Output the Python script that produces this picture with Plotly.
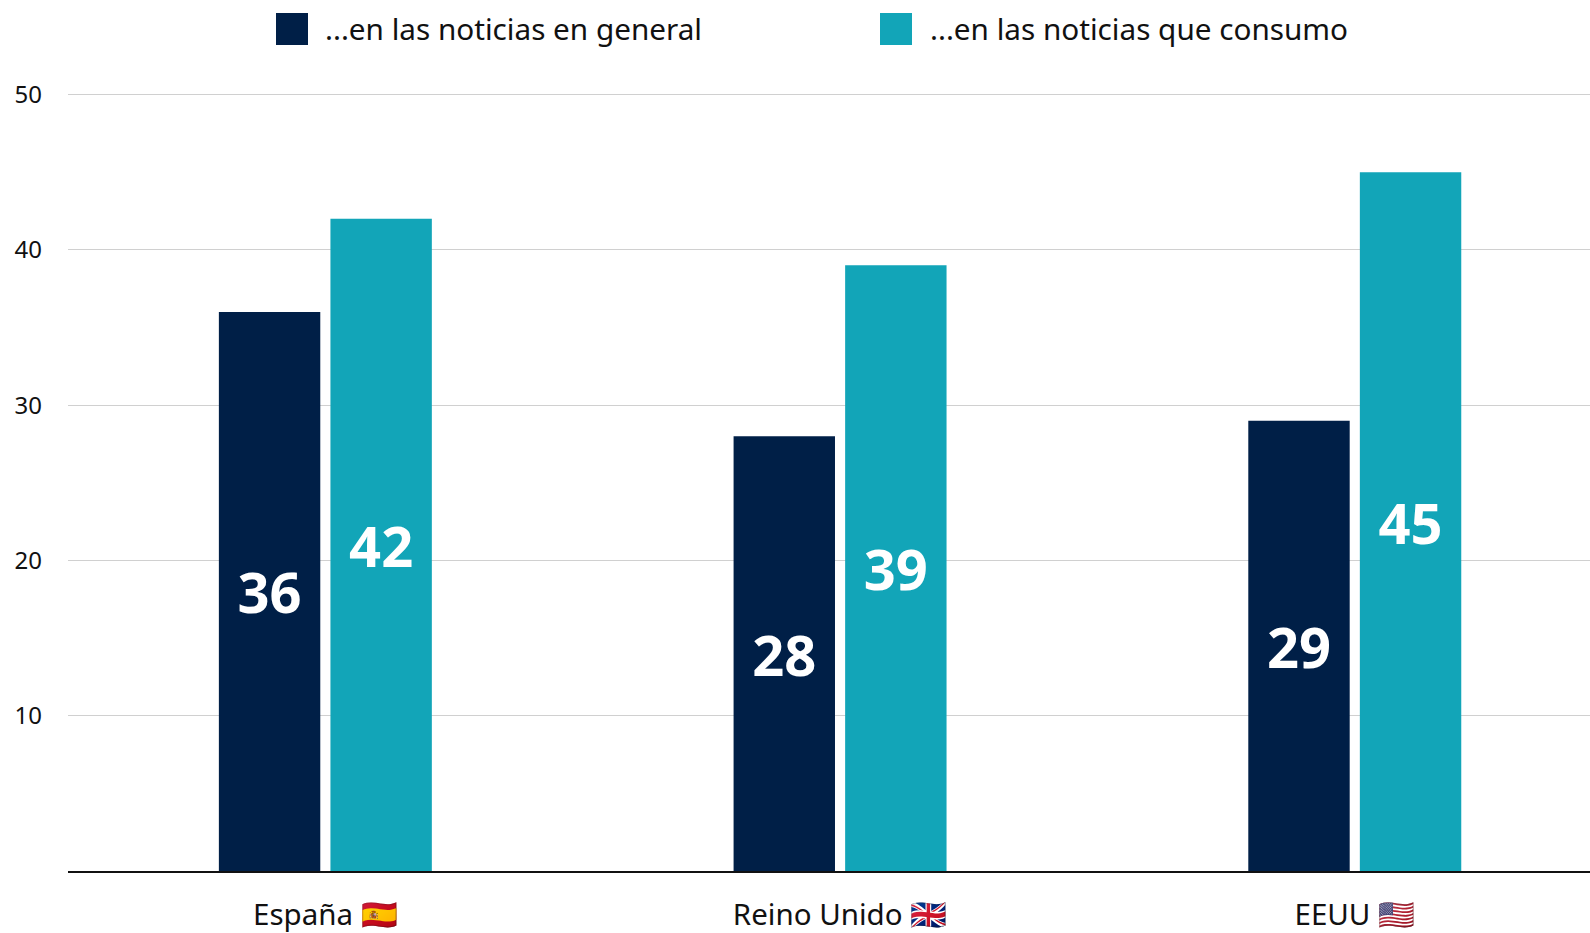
import plotly.graph_objects as go

FONT = "Noto Sans"
categories = ["España 🇪🇸", "Reino Unido 🇬🇧", "EEUU 🇺🇸"]
series_names = ["...en las noticias en general", "...en las noticias que consumo"]
general = [36, 28, 29]
consumo = [42, 39, 45]
y_ticks = [10, 20, 30, 40, 50]
colors = ["#001F47", "#12A5B8"]

W, H = 1590, 933
L, T, B = 68, 93, 61.5
plot_w = W - L
plot_h = H - T - B

fig = go.Figure()
for name, vals, col in zip(series_names, [general, consumo], colors):
    fig.add_trace(go.Bar(
        x=categories, y=vals, name=name, marker=dict(color=col, line=dict(width=0)),
        text=vals, textposition="inside", insidetextanchor="middle", textangle=0,
        insidetextfont=dict(family=FONT, size=56, color="white", weight=700),
        constraintext="none",
    ))

fig.update_layout(
    width=W, height=H, autosize=False, barmode="group", bargap=0.5665, bargroupgap=0.091,
    margin=dict(l=L, r=0, t=T, b=B, pad=0, autoexpand=False), showlegend=False,
    plot_bgcolor="white", paper_bgcolor="white", font=dict(family=FONT, color="#111111"),
    xaxis=dict(range=[-0.5, 2.457], tickfont=dict(size=29.5, color="#111111"), showline=True,
               linecolor="#111111", linewidth=2, showgrid=False, ticks="", ticklabelstandoff=17,
               automargin=False),
    yaxis=dict(range=[0, 50.1], tickvals=y_ticks, tickfont=dict(size=24, color="#111111"),
               showgrid=True, gridcolor="#D0D0D0", gridwidth=1.4, zeroline=False, showline=False, ticks="",
               ticklabelstandoff=25, automargin=False),
)

# legend swatches and labels sized as in the reference
legend_x = [(276, 323), (880, 928)]
for (sx, tx), name, col in zip(legend_x, series_names, colors):
    fig.add_shape(type="rect", xref="paper", yref="paper",
                  x0=(sx - L) / plot_w, x1=(sx + 32 - L) / plot_w,
                  y0=(H - B - 45) / plot_h, y1=(H - B - 13) / plot_h,
                  fillcolor=col, line_width=0)
    fig.add_annotation(text=name, xref="paper", yref="paper", x=(tx - L) / plot_w, y=(H - B - 28) / plot_h,
                       xanchor="left", yanchor="middle", showarrow=False,
                       font=dict(family=FONT, size=29.7, color="#111111"))

fig.write_html("out.html", config=dict(displayModeBar=False),
               post_script="document.body.style.margin='0';document.body.style.overflow='hidden';")
